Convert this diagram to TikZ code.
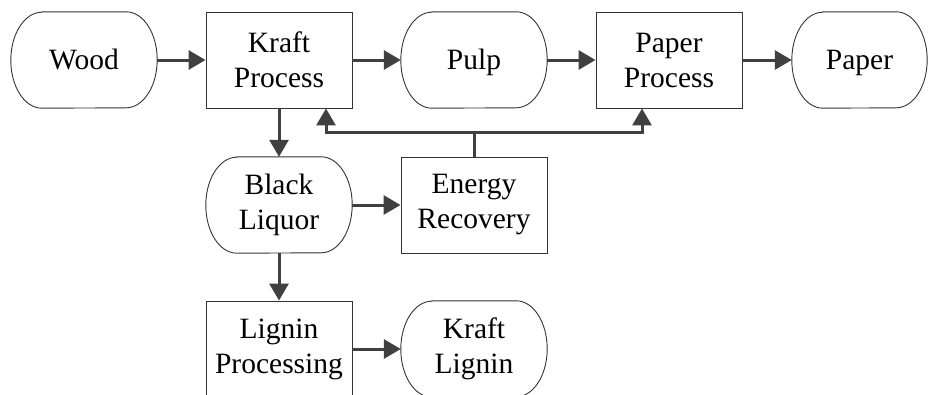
\documentclass[tikz,border=0pt]{standalone}
\usepackage{fontspec}
\setmainfont{Liberation Serif}
\usetikzlibrary{arrows.meta,calc}

\definecolor{flowgray}{RGB}{64,64,64}

\tikzset{
	box/.style={draw=black!80, line width=0.9, minimum width=146, minimum height=96, align=center, inner sep=0},
	term/.style={minimum width=146, minimum height=96, align=center, inner sep=0},
	oneline/.style={text height=19, text depth=0},
	flow/.style={draw=flowgray, line width=3, -{Triangle[length=17,width=19]}},
	line/.style={draw=flowgray, line width=3}
}

% outline of a terminal node (flat top and bottom, elliptic ends)
\newcommand{\termline}[1]{%
	\draw[black!80, line width=0.9] ($(#1.north west)+(31,0)$) -- ($(#1.north east)+(-31,0)$)
		arc [start angle=90, end angle=-90, x radius=31, y radius=48]
		-- ($(#1.south west)+(31,0)$)
		arc [start angle=270, end angle=90, x radius=31, y radius=48] -- cycle;}

\begin{document}
\begin{tikzpicture}[x=1pt, y=1pt, font=\fontsize{29.5}{35}\selectfont]
	\useasboundingbox (0,0) rectangle (932,-394);
	% top row
	\node [term,oneline] (wood) at (84,-60) {Wood};
	\node [box] (kraft) at (279,-60) {Kraft\\Process};
	\node [term,oneline] (pulp) at (474,-60) {Pulp};
	\node [box] (paperproc) at (669,-60) {Paper\\Process};
	\node [term,oneline,minimum width=135] (paper) at (859.5,-60) {Paper};
	% middle row
	\node [term] (liquor) at (279,-205) {Black\\Liquor};
	\node [box] (energy) at (474,-205) {Energy\\Recovery};
	% bottom row
	\node [box] (lignproc) at (279,-349) {Lignin\\Processing};
	\node [term] (klignin) at (474,-349) {Kraft\\Lignin};
	\termline{wood}
	\termline{pulp}
	\termline{paper}
	\termline{liquor}
	\termline{klignin}
	% main flow
	\draw [flow] (wood) -- (kraft);
	\draw [flow] (kraft) -- (pulp);
	\draw [flow] (pulp) -- (paperproc);
	\draw [flow] (paperproc) -- (paper);
	\draw [flow] (kraft) -- (liquor);
	\draw [flow] (liquor) -- (energy);
	\draw [flow] (liquor) -- (lignproc);
	\draw [flow] (lignproc) -- (klignin);
	% energy back to the processes
	\coordinate (fb) at (474,-132);
	\draw [line] (energy.north) -- (fb);
	\draw [flow] (fb) -| ($(kraft.south)+(47,0)$);
	\draw [flow] (fb) -| ($(paperproc.south)+(-27,0)$);
\end{tikzpicture}
\end{document}
